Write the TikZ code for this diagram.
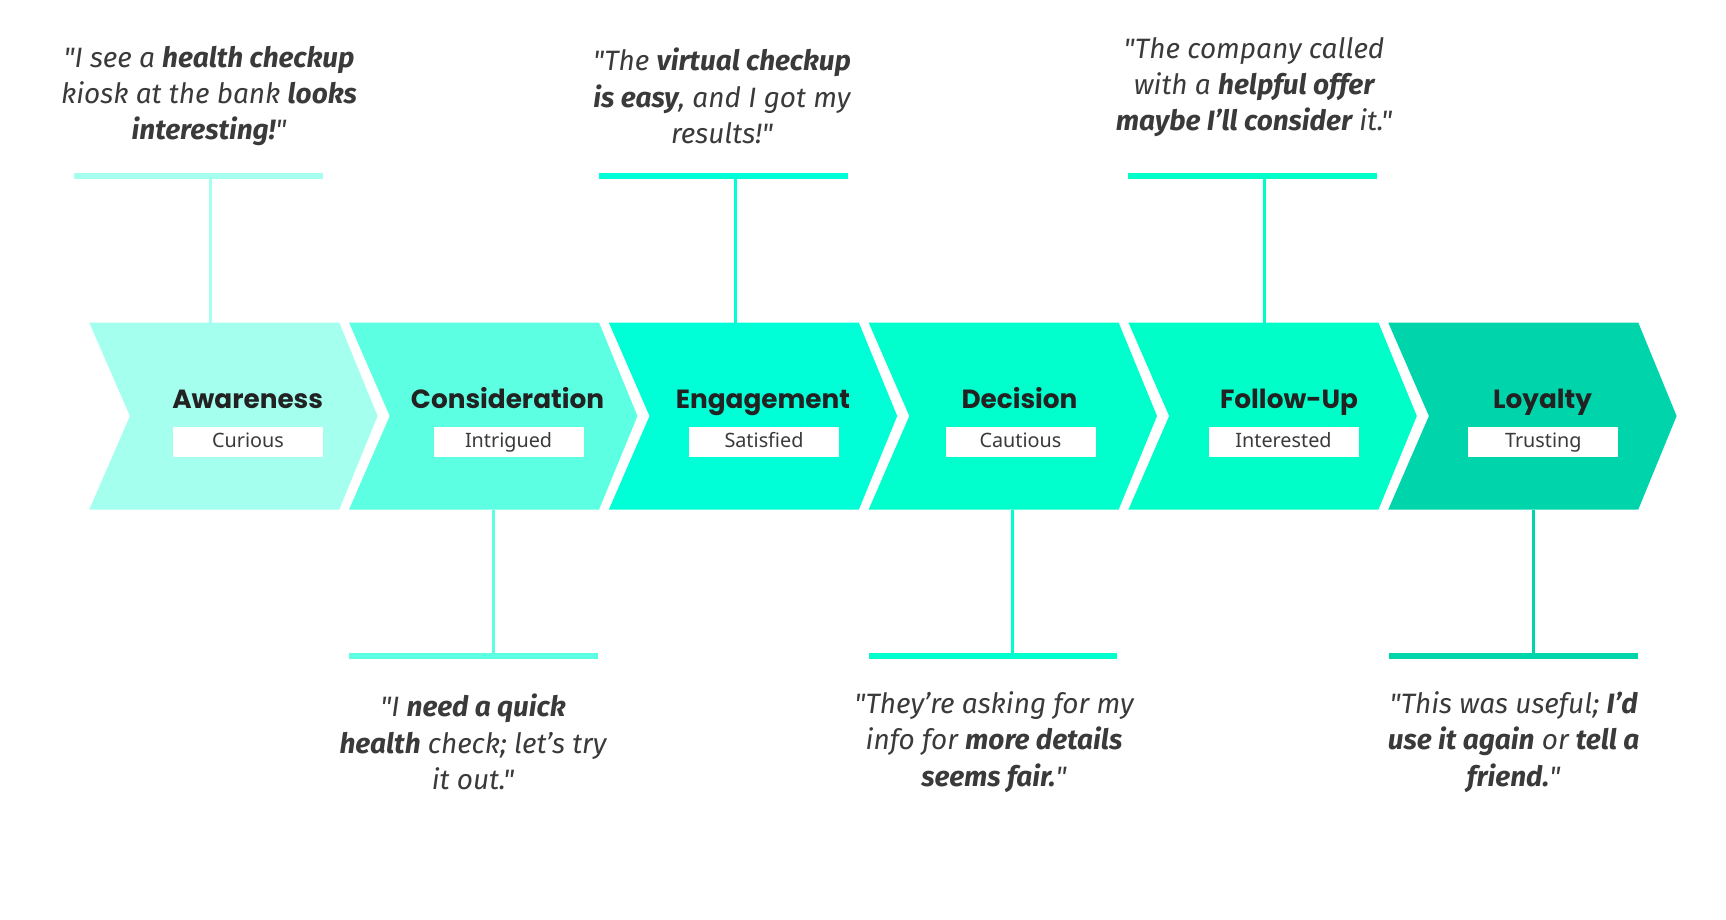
\documentclass[tikz,border=0pt]{standalone}
\usepackage{fontspec}
\setmainfont{Noto Sans}
\newfontfamily\poppinsfont{Poppins}
\newfontfamily\quotefont{Fira Sans}
\usetikzlibrary{positioning}
\definecolor{stA}{HTML}{A5FFEE}
\definecolor{stB}{HTML}{5CFFE1}
\definecolor{stC}{HTML}{00FFD6}
\definecolor{stD}{HTML}{00FFCC}
\definecolor{stE}{HTML}{00FFC8}
\definecolor{stF}{HTML}{00D4AA}
\definecolor{inkq}{HTML}{3A3A3A}
\definecolor{inkt}{HTML}{222222}
\tikzset{
  stagetitle/.style={anchor=base, inner sep=0pt, text=inkt, font=\poppinsfont\bfseries\fontsize{26.3}{30}\selectfont},
  emobox/.style={fill=white, minimum width=150pt, minimum height=30pt, inner sep=0pt, text height=14pt, text depth=3pt, text=inkq, font=\fontsize{19.8}{22}\selectfont},
  quotetext/.style={align=center, inner sep=0pt, text=inkq, font=\quotefont\itshape\fontsize{28}{36.3}\selectfont},
  barline/.style={line width=6.6pt},
  stemline/.style={line width=3pt},
}
\newcommand{\chev}[2]{%
  \fill[#2] (#1,322.5) -- ++(250,0) -- ++(38.4,93.5) -- ++(-38.4,93.7) -- ++(-250,0) -- ++(40.7,-93.7) -- cycle;}
\begin{document}
\begin{tikzpicture}[x=1pt,y=-1pt]
\useasboundingbox[fill=white] (0,0) rectangle (1726,920);
% chevrons
\chev{89.2}{stA}
\chev{349}{stB}
\chev{608.8}{stC}
\chev{868.6}{stD}
\chev{1128.4}{stE}
\chev{1388.2}{stF}
% titles and emotions
\node[stagetitle] (t1) at (247.7,408.5) {Awareness};
\node[emobox] (e1) at (248,442) {Curious};
\node[stagetitle] (t2) at (507.5,408.5) {Consideration};
\node[emobox] (e2) at (508.6,442) {Intrigued};
\node[stagetitle] (t3) at (763,408.5) {Engagement};
\node[emobox] (e3) at (764,442) {Satisfied};
\node[stagetitle] (t4) at (1019.5,408.5) {Decision};
\node[emobox] (e4) at (1020.5,442) {Cautious};
\node[stagetitle] (t5) at (1289,408.5) {Follow-Up};
\node[emobox] (e5) at (1283.5,442) {Interested};
\node[stagetitle] (t6) at (1542.5,408.5) {Loyalty};
\node[emobox] (e6) at (1543.3,442) {Trusting};
% stem anchor coordinates
\coordinate (s1a) at (210.3,176); \coordinate (s1b) at (210.3,322.5);
\coordinate (s3a) at (735.3,176); \coordinate (s3b) at (735.3,322.5);
\coordinate (s5a) at (1264.8,176); \coordinate (s5b) at (1264.8,322.5);
\coordinate (s2a) at (493.2,509.7); \coordinate (s2b) at (493.2,656);
\coordinate (s4a) at (1012.7,509.7); \coordinate (s4b) at (1012.7,656);
\coordinate (s6a) at (1533.4,509.7); \coordinate (s6b) at (1533.4,656);
\coordinate (b1l) at (73.8,176); \coordinate (b1r) at (322.5,176);
\coordinate (b3l) at (598.8,176); \coordinate (b3r) at (847.6,176);
\coordinate (b5l) at (1128.3,176); \coordinate (b5r) at (1377,176);
\coordinate (b2l) at (349,656); \coordinate (b2r) at (597.7,656);
\coordinate (b4l) at (868.5,656); \coordinate (b4r) at (1117.3,656);
\coordinate (b6l) at (1389,656); \coordinate (b6r) at (1638,656);
% bars and stems
\draw[stA,stemline] (s1a) -- (s1b); \draw[stA,barline] (b1l) -- (b1r);
\draw[stC,stemline] (s3a) -- (s3b); \draw[stC,barline] (b3l) -- (b3r);
\draw[stE,stemline] (s5a) -- (s5b); \draw[stE,barline] (b5l) -- (b5r);
\draw[stB,stemline] (s2a) -- (s2b); \draw[stB,barline] (b2l) -- (b2r);
\draw[stD,stemline] (s4a) -- (s4b); \draw[stD,barline] (b4l) -- (b4r);
\draw[stF,stemline] (s6a) -- (s6b); \draw[stF,barline] (b6l) -- (b6r);
% quotes
\node[quotetext] (q1) at (209,96) {"I see a \textbf{health checkup}\\kiosk at the bank \textbf{looks}\\\textbf{interesting!}"};
\node[quotetext] (q3) at (722,96) {"The \textbf{virtual checkup}\\\textbf{is easy}, and I got my\\results!"};
\node[quotetext] (q5) at (1254,87) {"The company called\\with a \textbf{helpful offer}\\\textbf{maybe I’ll consider} it."};
\node[quotetext] (q2) at (473,742) {"I \textbf{need a quick}\\\textbf{health} check; let’s try\\it out."};
\node[quotetext] (q4) at (994,742) {"They’re asking for my\\info for \textbf{more details}\\\textbf{seems fair.}"};
\node[quotetext] (q6) at (1513.6,742) {"This was useful; \textbf{I’d}\\\textbf{use it again} or \textbf{tell a}\\\textbf{friend.}"};
\end{tikzpicture}
\end{document}
